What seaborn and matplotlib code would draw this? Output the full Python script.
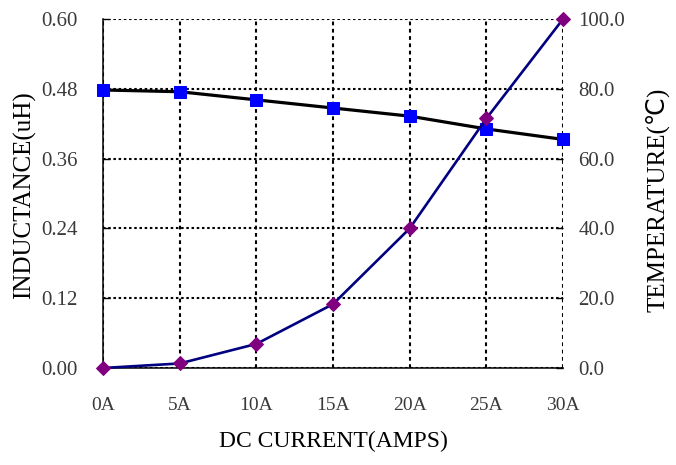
import matplotlib
matplotlib.use("Agg")
import matplotlib.pyplot as plt
import seaborn as sns
import pandas as pd
from matplotlib.ticker import FixedLocator, MultipleLocator

currents = ["0A", "5A", "10A", "15A", "20A", "25A", "30A"]
inductance = [0.478, 0.475, 0.461, 0.447, 0.433, 0.411, 0.393]
temperature = [0.0, 1.3, 6.9, 18.3, 40.0, 71.5, 100.0]
ind_ticks = [0.00, 0.12, 0.24, 0.36, 0.48, 0.60]
temp_ticks = [0.0, 20.0, 40.0, 60.0, 80.0, 100.0]

sns.set_theme(style="white")
plt.rcParams["font.family"] = ["Liberation Serif", "DejaVu Sans"]

df = pd.DataFrame({"current": currents, "inductance": inductance, "temperature": temperature})
df["pos"] = range(len(currents))

fig = plt.figure(figsize=(6.76, 4.65), dpi=100)
ax = fig.add_axes([0.1524, 0.2086, 0.6805, 0.7505])
ax2 = ax.twinx()

sns.lineplot(data=df, x="pos", y="inductance", ax=ax, color="black", linewidth=2.3,
             marker="s", markersize=8, markerfacecolor="#0000FF", markeredgecolor="#0000FF",
             clip_on=False, zorder=5)
sns.lineplot(data=df, x="pos", y="temperature", ax=ax2, color="#000080", linewidth=1.9,
             marker="D", markersize=7, markerfacecolor="#800080", markeredgecolor="#800080",
             clip_on=False, zorder=5)

ax.set_xlim(0, len(currents) - 1)
ax.set_ylim(0, 0.60)
ax2.set_ylim(0, 100)

ax.xaxis.set_major_locator(FixedLocator(list(df["pos"])))
ax.set_xticklabels(currents)
ax.xaxis.set_minor_locator(MultipleLocator(0.5))
ax.set_yticks(ind_ticks)
ax.set_yticklabels([f"{v:.2f}" for v in ind_ticks])
ax2.set_yticks(temp_ticks)
ax2.set_yticklabels([f"{v:.1f}" for v in temp_ticks])

ax.yaxis.grid(True, which="major", color="black", linestyle=(0, (1.2, 1.3)), linewidth=1.5)
ax.xaxis.grid(True, which="major", color="black", linestyle=(0, (1.8, 1.7)), linewidth=1.5)
ax.set_axisbelow(True)

for a in (ax, ax2):
    for s in ("top", "right"):
        a.spines[s].set_visible(False)
    a.set_facecolor("none")
ax2.spines["left"].set_visible(False)
ax2.spines["bottom"].set_visible(False)
for s in ("left", "bottom"):
    ax.spines[s].set_color("black")
    ax.spines[s].set_linewidth(1.1)

tick_color = "#3a3a3a"
ax.tick_params(axis="x", which="major", direction="in", length=0, pad=21,
               labelsize=14, labelcolor=tick_color)
ax.tick_params(axis="x", which="minor", direction="in", length=5, width=1, color="black")
ax.tick_params(axis="y", direction="in", length=5, width=1, color="black", pad=18,
               labelsize=15, labelcolor=tick_color, left=True)
ax2.tick_params(axis="y", direction="in", length=5, width=1, color="black", pad=11,
                labelsize=15, labelcolor=tick_color, right=True)

ax.set_xlabel("DC CURRENT(AMPS)", fontsize=17, color="black", labelpad=12)
ax.set_ylabel("")
ax2.set_ylabel("")
fig.text(25 / 676, 1 - 195 / 465, "INDUCTANCE(uH)", rotation=90, fontsize=18,
         color="black", ha="center", va="center")
fig.text(645 / 676, 1 - 200 / 465, "TEMPERATURE(℃)", rotation=90, fontsize=18,
         color="black", ha="left", va="center")

fig.savefig("out.png", dpi=100)
